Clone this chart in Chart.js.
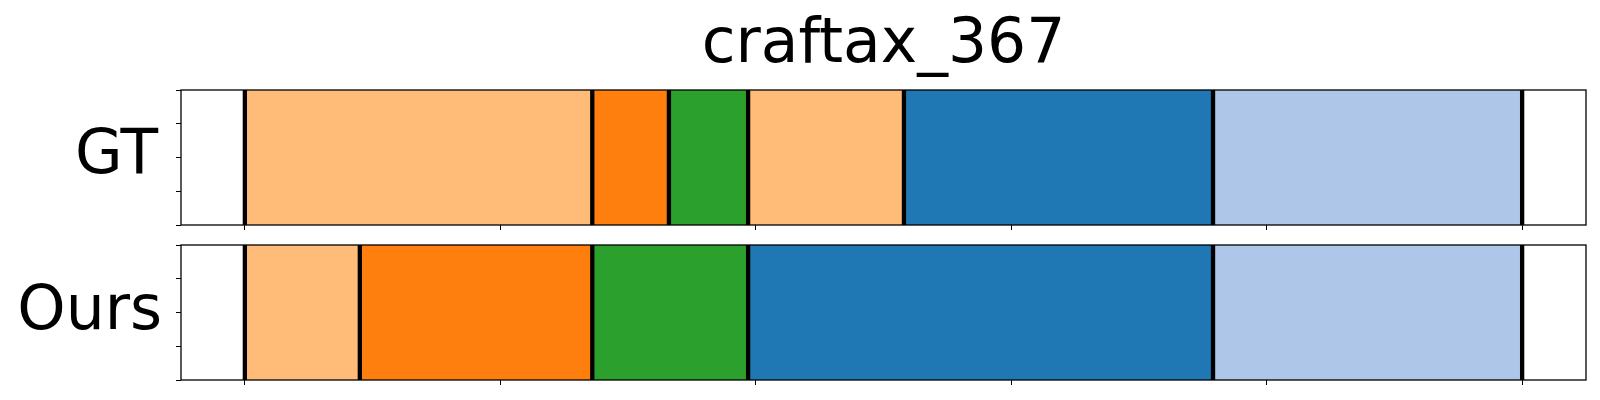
<!DOCTYPE html>
<html>
<head>
<meta charset="utf-8">
<script src="https://cdn.jsdelivr.net/npm/chart.js@4.4.0/dist/chart.umd.min.js"></script>
<style>
  body { margin: 0; background: #fff; }
  #wrap { position: relative; width: 1600px; height: 400px; font-family: "DejaVu Sans", sans-serif; color: #000; }
  .box { position: absolute; left: 0; width: 1600px; }
  .txt { position: absolute; font-size: 61.5px; line-height: 1; white-space: nowrap; }
</style>
</head>
<body>
<div id="wrap">
  <div class="txt" style="left:181px;width:1405px;top:11px;text-align:center;">craftax_367</div>
  <div class="txt" style="right:1442px;top:122px;text-align:right;">GT</div>
  <div class="txt" style="right:1438px;top:278px;text-align:right;">Ours</div>
  <div class="box" style="top:0;height:240px;"><canvas id="gtChart"></canvas></div>
  <div class="box" style="top:240px;height:160px;"><canvas id="oursChart"></canvas></div>
</div>
<script>
// segment boundaries (time steps) and colour of each segment
var gtBounds = [0, 136, 166, 197, 258, 379, 500];
var gtColors = ['#ffbb78', '#ff7f0e', '#2ca02c', '#ffbb78', '#1f77b4', '#aec7e8'];
var oursBounds = [0, 45, 136, 197, 379, 500];
var oursColors = ['#ffbb78', '#ff7f0e', '#2ca02c', '#1f77b4', '#aec7e8'];
var xTicks = [0, 100, 200, 300, 400, 500];
var yTicks = [0, 0.25, 0.5, 0.75, 1];

// black separators at each boundary + the frame around the axes
var boundsPlugin = {
    id: 'bounds',
    afterDatasetsDraw: function (chart, args, opts) {
        var ctx = chart.ctx;
        var area = chart.chartArea;
        var x = chart.scales.x;
        ctx.save();
        ctx.strokeStyle = '#000';
        ctx.lineWidth = 4.3;
        opts.bounds.forEach(function (b) {
            var px = x.getPixelForValue(b);
            ctx.beginPath();
            ctx.moveTo(px, area.top);
            ctx.lineTo(px, area.bottom);
            ctx.stroke();
        });
        ctx.lineWidth = 1.3;
        ctx.strokeRect(area.left, area.top, area.right - area.left, area.bottom - area.top);
        ctx.restore();
    }
};

function crearPanel(id, bounds, colors, pad) {
    var datasets = [];
    for (var i = 0; i < colors.length; i++) {
        datasets.push({
            data: [[bounds[i], bounds[i + 1]]],
            backgroundColor: colors[i],
            borderWidth: 0,
            grouped: false,
            barPercentage: 1,
            categoryPercentage: 1
        });
    }
    return new Chart(document.getElementById(id), {
        type: 'bar',
        data: { labels: ['seg'], datasets: datasets },
        plugins: [boundsPlugin],
        options: {
            indexAxis: 'y',
            responsive: true,
            maintainAspectRatio: false,
            animation: false,
            layout: { padding: pad },
            plugins: {
                legend: { display: false },
                tooltip: { enabled: false },
                bounds: { bounds: bounds }
            },
            scales: {
                x: {
                    type: 'linear',
                    min: -25,
                    max: 525,
                    offset: false,
                    afterBuildTicks: function (s) { s.ticks = xTicks.map(function (v) { return { value: v }; }); },
                    afterFit: function (s) { s.height = 5; },
                    ticks: { display: false },
                    grid: { offset: false, drawOnChartArea: false, drawTicks: true, tickLength: 5, color: '#000', lineWidth: 1 },
                    border: { display: false }
                },
                y: { display: false },
                y2: {
                    type: 'linear',
                    axis: 'y',
                    position: 'left',
                    min: 0,
                    max: 1,
                    offset: false,
                    afterBuildTicks: function (s) { s.ticks = yTicks.map(function (v) { return { value: v }; }); },
                    afterFit: function (s) { s.width = 5; },
                    ticks: { display: false, stepSize: 0.25, autoSkip: false },
                    grid: { offset: false, drawOnChartArea: false, drawTicks: true, tickLength: 5, color: '#000', lineWidth: 1 },
                    border: { display: false }
                }
            }
        }
    });
}

document.addEventListener('DOMContentLoaded', function () {
    crearPanel('gtChart', gtBounds, gtColors, { top: 90, bottom: 10, left: 176, right: 14 });
    crearPanel('oursChart', oursBounds, oursColors, { top: 5, bottom: 15, left: 176, right: 14 });
});
</script>
</body>
</html>
